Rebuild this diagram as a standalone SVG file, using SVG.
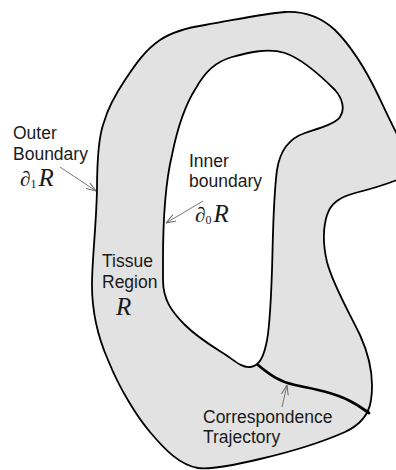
<svg xmlns="http://www.w3.org/2000/svg" width="396" height="470" viewBox="0 0 396 470">
<defs>
<style>
.lbl{font-family:"Liberation Sans",Arial,sans-serif;font-size:17.5px;fill:#1a1a1a}
.math{font-family:"Liberation Serif","Times New Roman",serif;fill:#1a1a1a}
.ptr{stroke:#666;stroke-width:0.9;fill:none}
</style>
<marker id="ah" viewBox="0 0 10 8" refX="10" refY="4" markerWidth="10" markerHeight="8" markerUnits="userSpaceOnUse" orient="auto">
<path d="M0,0.5 L10,4 L0,7.5" fill="none" stroke="#666" stroke-width="1"/>
</marker>
</defs>
<rect width="396" height="470" fill="#ffffff"/>
<g id="tissue-region">
<path fill="#e2e2e2" fill-rule="evenodd" stroke="#000" stroke-width="1.8" stroke-linejoin="round" d="M 97,190 C 97,160 99,135 104,122 C 108,108 115,95 125,80 C 135,65 145,50 160,40 C 172,32 185,28 205,25 C 235,20 260,14 285,12 C 305,11 322,18 335,30 C 350,45 365,68 378,95 C 386,112 392,125 398,136 L 402,136 L 402,178 C 390,183 375,188 355,193 C 340,197 331,203 327,215 C 323,228 323,245 327,262 C 333,285 348,310 360,335 C 370,357 374,380 371,400 C 369,415 360,425 345,432 C 320,443 290,452 260,459 C 235,465 212,470 198,468 C 180,465 165,450 150,432 C 138,418 120,390 108,360 C 97,335 92,310 92,285 C 92,260 96,230 97,190 Z M 163,260 C 163,220 166,180 172,155 C 177,130 185,105 196,88 C 205,72 215,62 232,57 C 250,52 268,48 285,53 C 300,58 320,75 335,90 C 343,99 345,110 340,117 C 335,124 320,128 305,133 C 290,138 280,150 277,170 C 273,200 273,240 272,270 C 271,300 270,330 266,345 C 263,358 259,366 250,367 C 243,368 236,362 226,355 C 212,346 198,338 185,325 C 172,312 163,300 163,280 Z"/>
</g>
<g id="connectors">
<path id="trajectory" d="M 258,365 C 270,375 280,382 295,385 C 315,389 335,393 350,401 C 358,405 363,409 369,413" fill="none" stroke="#000" stroke-width="2.8" stroke-linecap="round"/>
<line class="ptr" x1="60" y1="167" x2="96" y2="191" marker-end="url(#ah)"/>
<line class="ptr" x1="203" y1="201" x2="166" y2="223" marker-end="url(#ah)"/>
<line class="ptr" x1="282" y1="407" x2="287" y2="385" marker-end="url(#ah)"/>
</g>
<g id="outer-label">
<text class="lbl" x="13" y="139">Outer</text>
<text class="lbl" x="13" y="160">Boundary</text>
<text class="math" x="20" y="186"><tspan font-size="21">∂</tspan><tspan font-size="12" dy="2">1</tspan><tspan font-size="25" font-style="italic" dy="-2" dx="2">R</tspan></text>
</g>
<g id="inner-label">
<text class="lbl" x="189" y="167">Inner</text>
<text class="lbl" x="189" y="187">boundary</text>
<text class="math" x="195" y="222"><tspan font-size="21">∂</tspan><tspan font-size="12" dy="2">0</tspan><tspan font-size="25" font-style="italic" dy="-2" dx="2">R</tspan></text>
</g>
<g id="region-label">
<text class="lbl" x="102" y="267">Tissue</text>
<text class="lbl" x="102" y="288">Region</text>
<text class="math" x="116" y="315" font-size="25" font-style="italic">R</text>
</g>
<g id="trajectory-label">
<text class="lbl" x="203" y="423">Correspondence</text>
<text class="lbl" x="203" y="443">Trajectory</text>
</g>
</svg>
